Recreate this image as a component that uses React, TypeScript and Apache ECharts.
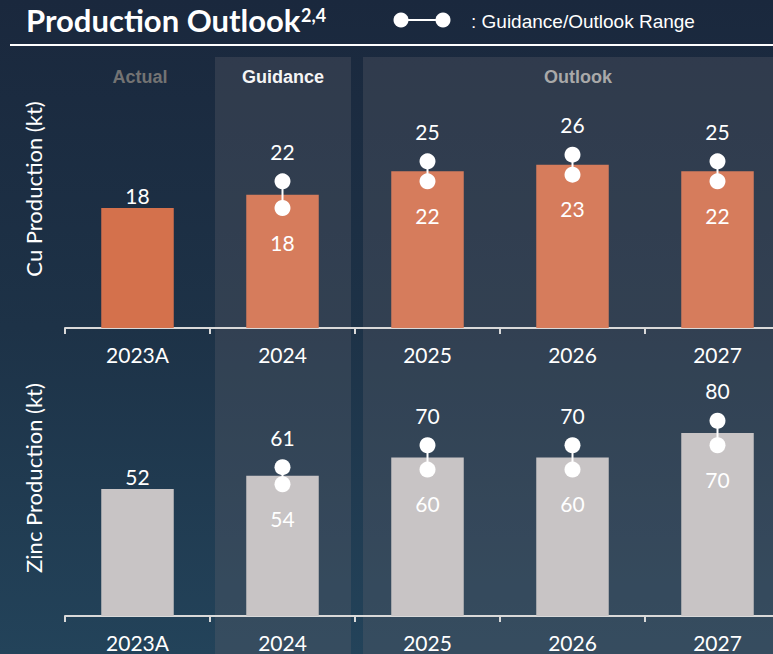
import React, { useEffect, useRef } from "react";
import * as echarts from "echarts";

const categories = ["2023A", "2024", "2025", "2026", "2027"];
const cuBar = [18, 20, 23.5, 24.5, 23.5];
const cuLow = [null, 18, 22, 23, 22];
const cuHigh = [null, 22, 25, 26, 25];
const znBar = [52, 57.5, 65, 65, 75];
const znLow = [null, 54, 60, 60, 70];
const znHigh = [null, 61, 70, 70, 80];
const headers = ["Actual", "Guidance", "Outlook"];

const W = 773;
const H = 654;
const FONT = "Lato, 'Noto Sans', sans-serif";
const WEIGHT = 400;

function rangeData(lo: (number | null)[], hi: (number | null)[]) {
  const out: number[][] = [];
  lo.forEach((v, i) => {
    const h = hi[i];
    if (v != null && h != null) out.push([i, v, h]);
  });
  return out;
}

function renderRange(_params: any, api: any) {
  const x = api.value(0);
  const lo = api.value(1);
  const hi = api.value(2);
  const pLo = api.coord([x, lo]);
  const pHi = api.coord([x, hi]);
  const txt = { fill: "#ffffff", font: `${WEIGHT} 21px ${FONT}`, align: "center", verticalAlign: "middle" };
  return {
    type: "group",
    children: [
      { type: "line", shape: { x1: pLo[0], y1: pLo[1], x2: pHi[0], y2: pHi[1] }, style: { stroke: "#ffffff", lineWidth: 2 } },
      { type: "circle", shape: { cx: pHi[0], cy: pHi[1], r: 8 }, style: { fill: "#ffffff" } },
      { type: "circle", shape: { cx: pLo[0], cy: pLo[1], r: 8 }, style: { fill: "#ffffff" } },
      { type: "text", x: pHi[0], y: pHi[1] - 30, style: { ...txt, text: String(hi) } },
      { type: "text", x: pLo[0], y: pLo[1] + 34, style: { ...txt, text: String(lo) } },
    ],
  };
}

export default function App() {
  const ref = useRef<HTMLDivElement>(null);
  useEffect(() => {
    if (!ref.current) return;
    const chart = echarts.init(ref.current, undefined, { renderer: "svg" });
    const axisCommon = {
      type: "category" as const,
      data: categories,
      boundaryGap: true,
      axisLine: { lineStyle: { color: "#d9d9d9", width: 2 } },
      axisTick: { show: true, length: 6, lineStyle: { color: "#d9d9d9", width: 2 } },
      axisLabel: { color: "#ffffff", fontSize: 21, fontWeight: WEIGHT, fontFamily: FONT, margin: 16 },
    };
    const yCommon = {
      type: "value" as const,
      min: 0,
      axisLine: { show: false },
      axisTick: { show: false },
      axisLabel: { show: false },
      splitLine: { show: false },
    };
    const bandColor = "rgba(100,100,110,0.3)";
    const labelStyle = { position: "top", distance: 2, color: "#ffffff", fontSize: 21, fontWeight: WEIGHT, fontFamily: FONT };
    chart.setOption({
      animation: false,
      backgroundColor: "transparent",
      grid: [
        { left: 65, top: 88, width: 725, height: 240, outerBoundsMode: "none", containLabel: false },
        { left: 65, top: 372, width: 725, height: 244, outerBoundsMode: "none", containLabel: false },
      ],
      xAxis: [
        { ...axisCommon, gridIndex: 0 },
        { ...axisCommon, gridIndex: 1 },
      ],
      yAxis: [
        { ...yCommon, gridIndex: 0, max: 36 },
        { ...yCommon, gridIndex: 1, max: 100 },
      ],
      series: [
        {
          type: "bar",
          xAxisIndex: 0,
          yAxisIndex: 0,
          barWidth: "50%",
          data: cuBar.map((v, i) => ({
            value: v,
            itemStyle: { color: i === 0 ? "#d4714c" : "#d67c5c" },
            label: { show: i === 0 },
          })),
          label: labelStyle,
          z: 2,
        },
        {
          type: "bar",
          xAxisIndex: 1,
          yAxisIndex: 1,
          barWidth: "50%",
          data: znBar.map((v, i) => ({
            value: v,
            itemStyle: { color: "#c8c4c5" },
            label: { show: i === 0 },
          })),
          label: labelStyle,
          z: 2,
        },
        {
          type: "custom",
          xAxisIndex: 0,
          yAxisIndex: 0,
          renderItem: renderRange,
          encode: { x: 0, y: [1, 2] },
          data: rangeData(cuLow, cuHigh),
          z: 5,
        },
        {
          type: "custom",
          xAxisIndex: 1,
          yAxisIndex: 1,
          renderItem: renderRange,
          encode: { x: 0, y: [1, 2] },
          data: rangeData(znLow, znHigh),
          z: 5,
        },
      ],
      graphic: [
        { type: "rect", z: -10, shape: { x: 215, y: 57, width: 136, height: H - 57 }, style: { fill: bandColor } },
        { type: "rect", z: -10, shape: { x: 363, y: 57, width: W - 363, height: H - 57 }, style: { fill: bandColor } },
        { type: "rect", shape: { x: 10, y: 44, width: W - 10, height: 2 }, style: { fill: "#ffffff" } },
        {
          type: "text",
          x: 26,
          y: 20,
          style: { text: "Production Outlook", fill: "#ffffff", font: `bold 31px ${FONT}`, verticalAlign: "middle" },
        },
        {
          type: "text",
          x: 301,
          y: 15,
          style: { text: "2,4", fill: "#ffffff", font: `bold 18px ${FONT}`, verticalAlign: "middle" },
        },
        { type: "line", shape: { x1: 401, y1: 20, x2: 443, y2: 20 }, style: { stroke: "#ffffff", lineWidth: 2 } },
        { type: "circle", shape: { cx: 401, cy: 20, r: 7.5 }, style: { fill: "#ffffff" } },
        { type: "circle", shape: { cx: 443, cy: 20, r: 7.5 }, style: { fill: "#ffffff" } },
        {
          type: "text",
          x: 471,
          y: 21,
          style: { text: ": Guidance/Outlook Range", fill: "#ffffff", font: `19px 'Liberation Sans', Arial, sans-serif`, verticalAlign: "middle" },
        },
        {
          type: "text",
          x: 140,
          y: 77,
          style: { text: headers[0], fill: "#737373", font: `bold 18px 'Liberation Sans', Arial, sans-serif`, align: "center", verticalAlign: "middle" },
        },
        {
          type: "text",
          x: 283,
          y: 77,
          style: { text: headers[1], fill: "#f5f5f5", font: `bold 18px 'Liberation Sans', Arial, sans-serif`, align: "center", verticalAlign: "middle" },
        },
        {
          type: "text",
          x: 578,
          y: 77,
          style: { text: headers[2], fill: "#a9a9a9", font: `bold 18px 'Liberation Sans', Arial, sans-serif`, align: "center", verticalAlign: "middle" },
        },
        {
          type: "text",
          x: 33,
          y: 189,
          rotation: Math.PI / 2,
          style: { text: "Cu Production (kt)", fill: "#ffffff", font: `${WEIGHT} 22px ${FONT}`, align: "center", verticalAlign: "middle" },
        },
        {
          type: "text",
          x: 33,
          y: 478,
          rotation: Math.PI / 2,
          style: { text: "Zinc Production (kt)", fill: "#ffffff", font: `${WEIGHT} 22px ${FONT}`, align: "center", verticalAlign: "middle" },
        },
      ],
    });
    return () => chart.dispose();
  }, []);
  return (
    <div
      ref={ref}
      style={{
        position: "fixed",
        left: 0,
        top: 0,
        width: W,
        height: H,
        background: "linear-gradient(180deg, #1a283d 0%, #1d3247 50%, #23435a 100%)",
      }}
    />
  );
}
